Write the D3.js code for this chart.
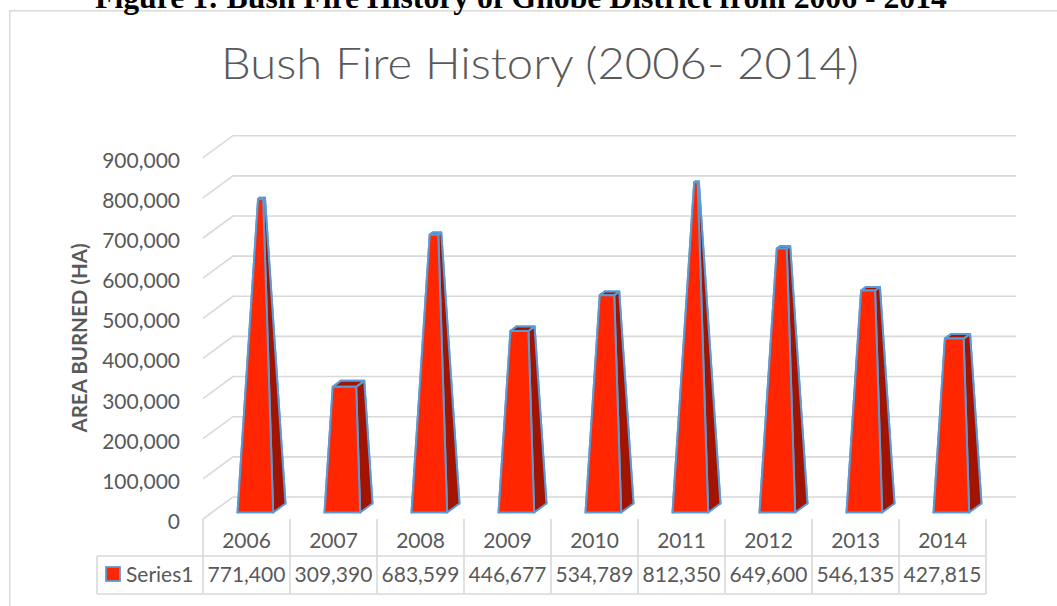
<!DOCTYPE html>
<html><head><meta charset="utf-8">
<script src="https://cdn.jsdelivr.net/npm/d3@7"></script>
<style>body{margin:0;background:#fff;} svg{display:block}</style>
</head><body>
<svg id="c" width="1057" height="606"></svg>
<script>
// ---------- data ----------
const years = ["2006","2007","2008","2009","2010","2011","2012","2013","2014"];
const areaBurned = [771400, 309390, 683599, 446677, 534789, 812350, 649600, 546135, 427815];
const yTicks = [0,100000,200000,300000,400000,500000,600000,700000,800000,900000];
const seriesName = "Series1";
const chartTitle = "Bush Fire History (2006- 2014)";
const captionText = "Figure 1: Bush Fire History of Ghobe District from 2006 - 2014";
const yAxisTitle = "AREA BURNED (HA)";

// ---------- layout ----------
const svg = d3.select("#c");
const grid = "#d9d9d9", txt = "#595959";
const frontRed = "#ff2600", darkRed = "#a31400", edge = "#5b9bd5";
const plotX0 = 203, plotX1 = 986, floorY = 519, topY = 157.7;
const dX = 30, dY = -22;
const x = d3.scaleBand().domain(years).range([plotX0, plotX1]).padding(0);
const y = d3.scaleLinear().domain([0, 900000]).range([floorY, topY]);
const P = (X, v, z) => [X + z*dX, y(v) + z*dY];
const line = pts => "M" + pts.map(p => p.join(",")).join("L");

// chart border
svg.append("path").attr("d","M9.75,606V10.75H1057")
  .attr("fill","none").attr("stroke",grid).attr("stroke-width",1.5);

// caption (cut off at top, as in the source)
const cap = svg.append("text").text(captionText)
  .attr("font-family","'Liberation Serif','Times New Roman',serif").attr("font-weight","bold")
  .attr("font-size",26).attr("fill","#000").attr("text-anchor","middle")
  .attr("x",521).attr("y",7.5);
const cw = cap.node().getComputedTextLength();
cap.attr("font-size", 26*852/cw);

// title (stretched horizontally to the source width)
const title = svg.append("text").text(chartTitle)
  .attr("font-family","Lato").attr("font-weight",300).attr("font-size",44)
  .attr("fill",txt).attr("text-anchor","middle");
const tw = title.node().getComputedTextLength();
title.attr("transform",`translate(540,79) scale(${638/tw},1)`);

// gridlines
svg.append("g").selectAll("path").data(yTicks).join("path")
  .attr("d", t => line([P(plotX0,t,0), P(plotX0,t,1), P(plotX1,t,1)]))
  .attr("fill","none").attr("stroke",grid).attr("stroke-width",1.6);

// tick labels
const fmt = d3.format(",");
const fs = 21;
svg.append("g").selectAll("text").data(yTicks).join("text")
  .text(d => fmt(d))
  .attr("font-family","Lato").attr("font-size",fs).attr("fill",txt)
  .attr("text-anchor","end").attr("x",180)
  .attr("y", d => y(d) + 2.5 + 0.36*fs);

// axis title
svg.append("text").text(yAxisTitle)
  .attr("font-family","Lato").attr("font-weight","bold").attr("font-size",20.5)
  .attr("fill",txt).attr("text-anchor","middle")
  .attr("transform","translate(87,338) rotate(-90)");

// bars (truncated pyramids)
const bw = x.bandwidth();
const hw = bw*0.41/2, hz = 0.205, zc = 0.5;
const gBars = svg.append("g");
years.forEach((yr, i) => {
  const v = areaBurned[i];
  const s = 1 - v/900000;
  const Xc = x(yr) + bw/2;
  const B = (sx, sz) => P(Xc + sx*hw, 0, zc + sz*hz);
  const T = (sx, sz) => P(Xc + sx*hw*s, v, zc + sz*hz*s);
  const faces = [
    {pts:[B(-1,1),B(1,1),T(1,1),T(-1,1)], fill:darkRed},
    {pts:[B(-1,-1),B(-1,1),T(-1,1),T(-1,-1)], fill:darkRed},
    {pts:[B(1,-1),B(1,1),T(1,1),T(1,-1)], fill:darkRed},
    {pts:[T(-1,-1),T(1,-1),T(1,1),T(-1,1)], fill:darkRed},
    {pts:[B(-1,-1),B(1,-1),T(1,-1),T(-1,-1)], fill:frontRed}
  ];
  const g = gBars.append("g");
  g.selectAll("path").data(faces).join("path")
    .attr("d", f => line(f.pts) + "Z")
    .attr("fill", f => f.fill).attr("stroke", edge).attr("stroke-width",2)
    .attr("stroke-linejoin","round");
});

// data table
const tb = svg.append("g").attr("stroke",grid).attr("stroke-width",1.6).attr("fill","none");
const colEdges = years.map(d => x(d)).concat([plotX1]);
tb.selectAll("path.v").data(colEdges).join("path").attr("class","v")
  .attr("d", d => `M${d},${floorY}V594`);
tb.append("path").attr("d", `M97,556H${plotX1}M97,594H${plotX1}M97,556V594`);

svg.append("g").selectAll("text").data(years).join("text")
  .text(d => d).attr("font-family","Lato").attr("font-size",fs).attr("fill",txt)
  .attr("text-anchor","middle").attr("x", d => x(d)+bw/2).attr("y",548);
svg.append("g").selectAll("text").data(areaBurned).join("text")
  .text(d => fmt(d)).attr("font-family","Lato").attr("font-size",fs).attr("fill",txt)
  .attr("text-anchor","middle").attr("x", (d,i) => x(years[i])+bw/2).attr("y",582);

// legend key
svg.append("rect").attr("x",106).attr("y",567).attr("width",14).attr("height",14)
  .attr("fill",frontRed).attr("stroke",edge).attr("stroke-width",1.8);
svg.append("text").text(seriesName).attr("font-family","Lato").attr("font-size",fs)
  .attr("fill",txt).attr("x",126).attr("y",582);
</script>
</body></html>
